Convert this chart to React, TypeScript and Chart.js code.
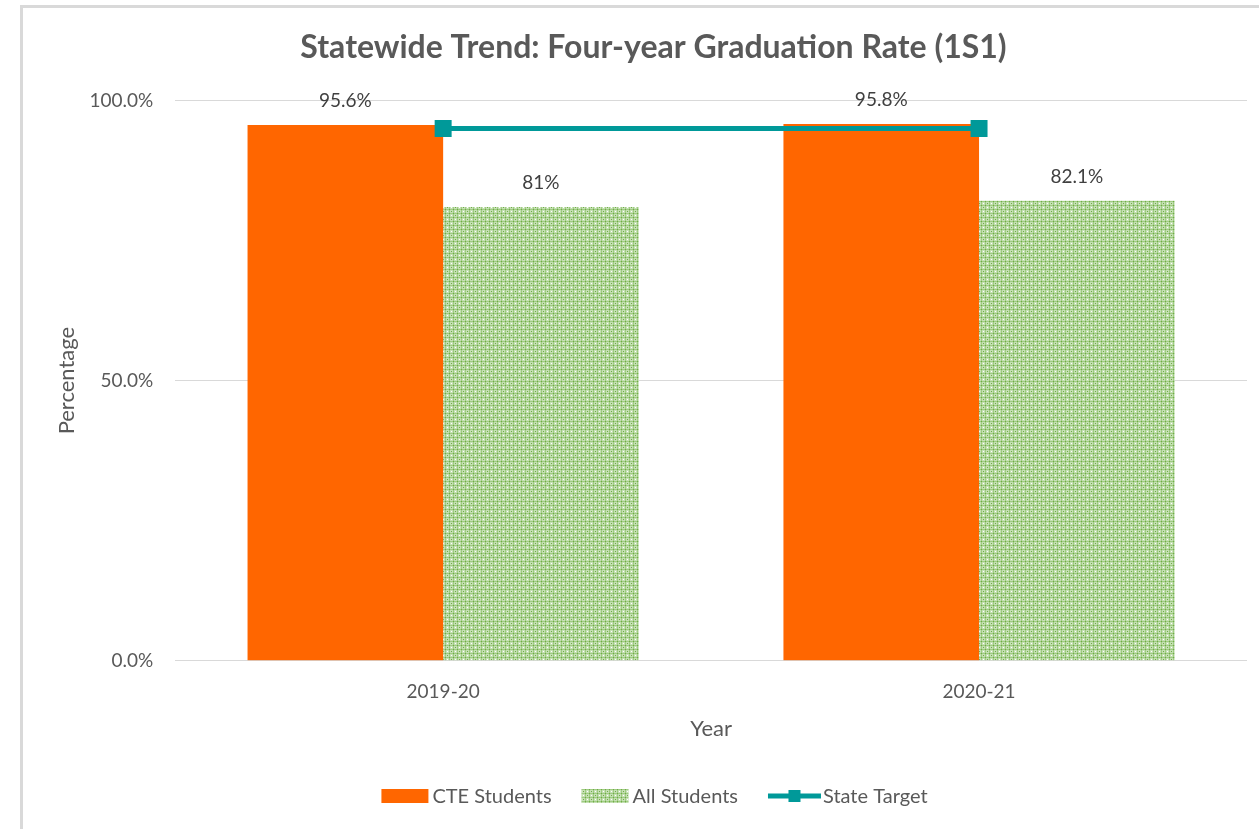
import React, { useEffect, useRef } from "react";
import { Chart, registerables } from "chart.js";
Chart.register(...registerables);

const categories = ["2019-20", "2020-21"];
const cteStudents = [95.6, 95.8];
const allStudents = [81, 82.1];
const stateTarget = [95, 95];
const yTickValues = [0, 50, 100];

const FONT = "Lato, 'Open Sans', sans-serif";
const TEXT = "#595959";
const ORANGE = "#ff6600";
const TEAL = "#009999";

function makePattern(ctx: CanvasRenderingContext2D): CanvasPattern | string {
  const c = document.createElement("canvas");
  c.width = 8;
  c.height = 8;
  const p = c.getContext("2d");
  if (!p) return "#a9d18e";
  p.fillStyle = "#c5e0b4";
  p.fillRect(0, 0, 8, 8);
  p.fillStyle = "#9fcb82";
  p.fillRect(1, 0, 1, 8);
  p.fillRect(5, 0, 1, 8);
  p.fillRect(0, 1, 8, 1);
  p.fillRect(0, 5, 8, 1);
  p.fillStyle = "#70ad47";
  p.fillRect(1, 1, 1, 1);
  p.fillRect(5, 5, 1, 1);
  p.fillRect(1, 5, 1, 1);
  p.fillRect(5, 1, 1, 1);
  p.fillRect(3, 3, 1, 1);
  p.fillRect(7, 7, 1, 1);
  p.fillStyle = "#ffffff";
  p.fillRect(3, 7, 1, 1);
  p.fillRect(7, 3, 1, 1);
  return ctx.createPattern(c, "repeat") || "#a9d18e";
}

export default function App() {
  const ref = useRef<HTMLCanvasElement | null>(null);

  useEffect(() => {
    const canvas = ref.current;
    if (!canvas) return;
    const ctx = canvas.getContext("2d");
    if (!ctx) return;
    const pattern = makePattern(ctx);

    const dataLabels = {
      id: "dataLabels",
      afterDatasetsDraw(chart: any) {
        const c = chart.ctx;
        c.save();
        c.font = `19px ${FONT}`;
        c.fillStyle = "#404040";
        c.textAlign = "center";
        c.textBaseline = "middle";
        chart.data.datasets.forEach((ds: any, di: number) => {
          if (ds.type !== "bar") return;
          const meta = chart.getDatasetMeta(di);
          meta.data.forEach((el: any, i: number) => {
            c.fillText(String(ds.data[i]) + "%", el.x, el.y - 24);
          });
        });
        c.restore();
      },
    };

    const customLegend = {
      id: "customLegend",
      afterDraw(chart: any) {
        const c = chart.ctx;
        c.save();
        c.font = `20px ${FONT}`;
        c.textBaseline = "middle";
        const items = chart.data.datasets.map((ds: any) => ({
          label: ds.label,
          type: ds.type,
          color: ds.type === "line" ? ds.borderColor : ds.backgroundColor,
        }));
        const gapItem = 30;
        const sampleW = (it: any) => (it.type === "line" ? 53 : 47);
        const gapText = (it: any) => (it.type === "line" ? 2 : 4);
        const widths = items.map((it: any) => sampleW(it) + gapText(it) + c.measureText(it.label).width);
        const total = widths.reduce((a: number, b: number) => a + b, 0) + gapItem * (items.length - 1);
        let x = chart.width / 2 + 25 - total / 2;
        const y = 796;
        items.forEach((it: any, i: number) => {
          const sw = sampleW(it);
          if (it.type === "line") {
            c.strokeStyle = it.color;
            c.lineWidth = 5;
            c.beginPath();
            c.moveTo(x, y);
            c.lineTo(x + sw, y);
            c.stroke();
            c.fillStyle = it.color;
            c.fillRect(x + sw / 2 - 6, y - 6, 12, 12);
          } else {
            c.fillStyle = it.color;
            c.fillRect(x, y - 7, sw, 14);
          }
          c.fillStyle = TEXT;
          c.textAlign = "left";
          c.fillText(it.label, x + sw + gapText(it), y + 1);
          x += widths[i] + gapItem;
        });
        c.restore();
      },
    };

    const chart = new Chart(ctx, {
      type: "bar",
      data: {
        labels: categories,
        datasets: [
          {
            type: "bar",
            label: "CTE Students",
            data: cteStudents,
            backgroundColor: ORANGE,
            categoryPercentage: 0.73,
            barPercentage: 1.0,
            order: 2,
          } as any,
          {
            type: "bar",
            label: "All Students",
            data: allStudents,
            backgroundColor: pattern,
            categoryPercentage: 0.73,
            barPercentage: 1.0,
            order: 2,
          } as any,
          {
            type: "line",
            label: "State Target",
            data: stateTarget,
            borderColor: TEAL,
            backgroundColor: TEAL,
            borderWidth: 5,
            pointStyle: "rect",
            pointRadius: 12,
            pointHoverRadius: 12,
            pointBorderWidth: 0,
            order: 1,
          } as any,
        ],
      },
      options: {
        animation: false,
        responsive: false,
        maintainAspectRatio: false,
        layout: { padding: { left: 54, right: 6, top: 22, bottom: 87 } },
        plugins: {
          legend: { display: false },
          tooltip: { enabled: false },
          title: {
            display: true,
            text: "Statewide Trend: Four-year Graduation Rate (1S1)",
            color: TEXT,
            font: { family: FONT, size: 32, weight: "bold" },
            padding: { top: 6, bottom: 34 },
          },
        },
        scales: {
          x: {
            grid: { display: false, drawTicks: false },
            border: { display: false },
            ticks: { color: TEXT, font: { family: FONT, size: 19 }, padding: 20 },
            title: {
              display: true,
              text: "Year",
              color: TEXT,
              font: { family: FONT, size: 22 },
              padding: { top: -8, bottom: 0 },
            },
          },
          y: {
            min: 0,
            max: 100,
            afterBuildTicks(axis: any) {
              axis.ticks = yTickValues.map((v) => ({ value: v }));
            },
            grid: { color: "#d9d9d9", lineWidth: 1, drawTicks: false },
            border: { display: false },
            ticks: {
              color: TEXT,
              font: { family: FONT, size: 19 },
              padding: 22,
              callback: (v: any) => Number(v).toFixed(1) + "%",
            },
            title: {
              display: true,
              text: "Percentage",
              color: TEXT,
              font: { family: FONT, size: 22 },
              padding: { top: 0, bottom: -13 },
            },
          },
        },
      },
      plugins: [dataLabels, customLegend],
    });
    return () => chart.destroy();
  }, []);

  return (
    <div style={{ position: "fixed", left: 0, top: 0, width: 1259, height: 829, background: "#fff", overflow: "hidden" }}>
      <div
        style={{
          position: "absolute",
          left: 20,
          top: 5,
          width: 1300,
          height: 900,
          borderTop: "3px solid #d9d9d9",
          borderLeft: "3px solid #d9d9d9",
          boxSizing: "border-box",
        }}
      />
      <canvas ref={ref} width={1259} height={829} style={{ position: "absolute", left: 0, top: 0, width: 1259, height: 829 }} />
    </div>
  );
}
